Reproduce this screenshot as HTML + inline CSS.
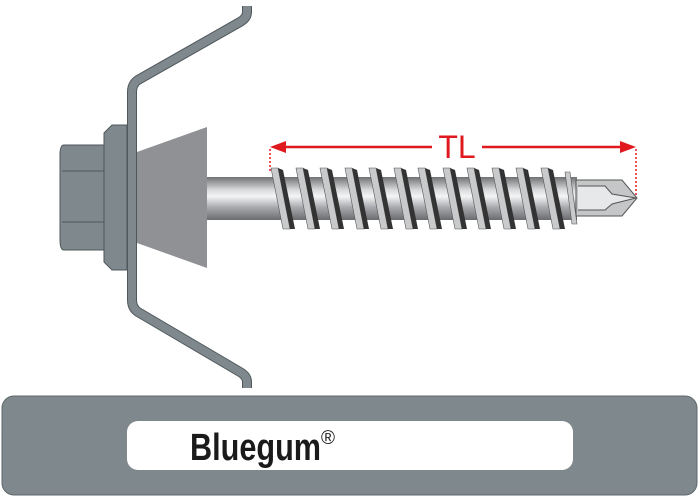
<!DOCTYPE html>
<html><head><style>body{margin:0;background:#fff}svg{display:block}</style></head>
<body>
<svg width="700" height="496" viewBox="0 0 700 496" xmlns="http://www.w3.org/2000/svg">
<defs>
<linearGradient id="sh" x1="0" y1="0" x2="0" y2="1">
<stop offset="0" stop-color="#6f7174"/><stop offset="0.3" stop-color="#d8dadc"/><stop offset="0.45" stop-color="#f4f5f6"/><stop offset="0.7" stop-color="#a9abae"/><stop offset="1" stop-color="#6a6c6f"/>
</linearGradient>
</defs>
<!-- sheet -->
<path id="sheet" d="M247,6 L247,12 Q247,18 240,22 L138,80 Q132,84 132,92 L132,300 Q132,308 138,312 L240,372 Q247,376 247,382 L247,388" fill="none" stroke="#4f575b" stroke-width="10" stroke-linejoin="round"/>
<path d="M247,6 L247,12 Q247,18 240,22 L138,80 Q132,84 132,92 L132,300 Q132,308 138,312 L240,372 Q247,376 247,382 L247,388" fill="none" stroke="#7e888d" stroke-width="8" stroke-linejoin="round"/>
<!-- hex head -->
<path d="M64,145 L104,145 L104,250 L64,250 Q60,250 60,240 L60,155 Q60,145 64,145Z" fill="#7e888d" stroke="#4f575b"/>
<path d="M62,171 L104,171 M62,222 L104,222" stroke="#4f575b" fill="none"/>
<!-- washer -->
<path d="M112,125 L127,125 L127,270 L112,270 L104,262 L104,133Z" fill="#7e888d" stroke="#4f575b"/>
<!-- cone -->
<path d="M137,152 L207,127 L207,268 L137,243Z" fill="#8f9194"/>
<!-- shank -->
<rect x="207" y="177" width="370" height="43" fill="url(#sh)"/>
<g>
<path d="M271,168 L278,168 L290,229 L283,229Z" fill="#c8cacc" stroke="#555" stroke-width="0.6"/><path d="M278,168 L283,170 L295,229 L290,229Z" fill="#333"/>
<path d="M296,168 L303,168 L315,229 L308,229Z" fill="#c8cacc" stroke="#555" stroke-width="0.6"/><path d="M303,168 L308,170 L320,229 L315,229Z" fill="#333"/>
<path d="M320,168 L327,168 L339,229 L332,229Z" fill="#c8cacc" stroke="#555" stroke-width="0.6"/><path d="M327,168 L332,170 L344,229 L339,229Z" fill="#333"/>
<path d="M345,168 L352,168 L364,229 L357,229Z" fill="#c8cacc" stroke="#555" stroke-width="0.6"/><path d="M352,168 L357,170 L369,229 L364,229Z" fill="#333"/>
<path d="M369,168 L376,168 L388,229 L381,229Z" fill="#c8cacc" stroke="#555" stroke-width="0.6"/><path d="M376,168 L381,170 L393,229 L388,229Z" fill="#333"/>
<path d="M394,168 L401,168 L413,229 L406,229Z" fill="#c8cacc" stroke="#555" stroke-width="0.6"/><path d="M401,168 L406,170 L418,229 L413,229Z" fill="#333"/>
<path d="M418,168 L425,168 L437,229 L430,229Z" fill="#c8cacc" stroke="#555" stroke-width="0.6"/><path d="M425,168 L430,170 L442,229 L437,229Z" fill="#333"/>
<path d="M443,168 L450,168 L462,229 L455,229Z" fill="#c8cacc" stroke="#555" stroke-width="0.6"/><path d="M450,168 L455,170 L467,229 L462,229Z" fill="#333"/>
<path d="M467,168 L474,168 L486,229 L479,229Z" fill="#c8cacc" stroke="#555" stroke-width="0.6"/><path d="M474,168 L479,170 L491,229 L486,229Z" fill="#333"/>
<path d="M492,168 L499,168 L511,229 L504,229Z" fill="#c8cacc" stroke="#555" stroke-width="0.6"/><path d="M499,168 L504,170 L516,229 L511,229Z" fill="#333"/>
<path d="M516,168 L523,168 L535,229 L528,229Z" fill="#c8cacc" stroke="#555" stroke-width="0.6"/><path d="M523,168 L528,170 L540,229 L535,229Z" fill="#333"/>
<path d="M541,168 L548,168 L560,229 L553,229Z" fill="#c8cacc" stroke="#555" stroke-width="0.6"/><path d="M548,168 L553,170 L565,229 L560,229Z" fill="#333"/>
<path d="M565,172 L570,172 L577,224 L572,224Z" fill="#c8cacc" stroke="#555" stroke-width="0.6"/>
</g>
<!-- tip -->
<path d="M576,180 L622,180 L637,198 L622,216 L576,216Z" fill="#c4c6c8" stroke="#555" stroke-width="1"/>
<path d="M578,186 L605,186 L612,194 L636,198 L612,204 L605,210 L578,210" fill="#e6e8e9" stroke="#555" stroke-width="1"/>
<!-- dimension -->
<line x1="284" y1="147" x2="432" y2="147" stroke="#e0191e" stroke-width="2.5"/>
<line x1="482" y1="147" x2="622" y2="147" stroke="#e0191e" stroke-width="2.5"/>
<path d="M270,147 L286,141 L286,153Z" fill="#e0191e"/>
<path d="M636,147 L620,141 L620,153Z" fill="#e0191e"/>
<line x1="270" y1="149" x2="270" y2="172" stroke="#e0191e" stroke-width="1.5" stroke-dasharray="2,2"/>
<line x1="636" y1="149" x2="636" y2="197" stroke="#e0191e" stroke-width="1.5" stroke-dasharray="2,2"/>
<text x="457" y="158" font-family="Liberation Sans, sans-serif" font-size="32" fill="#e0191e" text-anchor="middle">TL</text>
<!-- band -->
<rect x="2" y="396" width="695" height="99" rx="12" fill="#7e888d" stroke="#5f686c"/>
<rect x="127" y="421" width="446" height="49" rx="11" fill="#fff"/>
<text x="190" y="460" font-family="Liberation Sans, sans-serif" font-weight="bold" font-size="38" fill="#1a1a1a" textLength="131" lengthAdjust="spacingAndGlyphs">Bluegum</text>
<text x="321" y="444" font-family="Liberation Sans, sans-serif" font-size="19" fill="#1a1a1a">®</text>
</svg>
</body></html>
